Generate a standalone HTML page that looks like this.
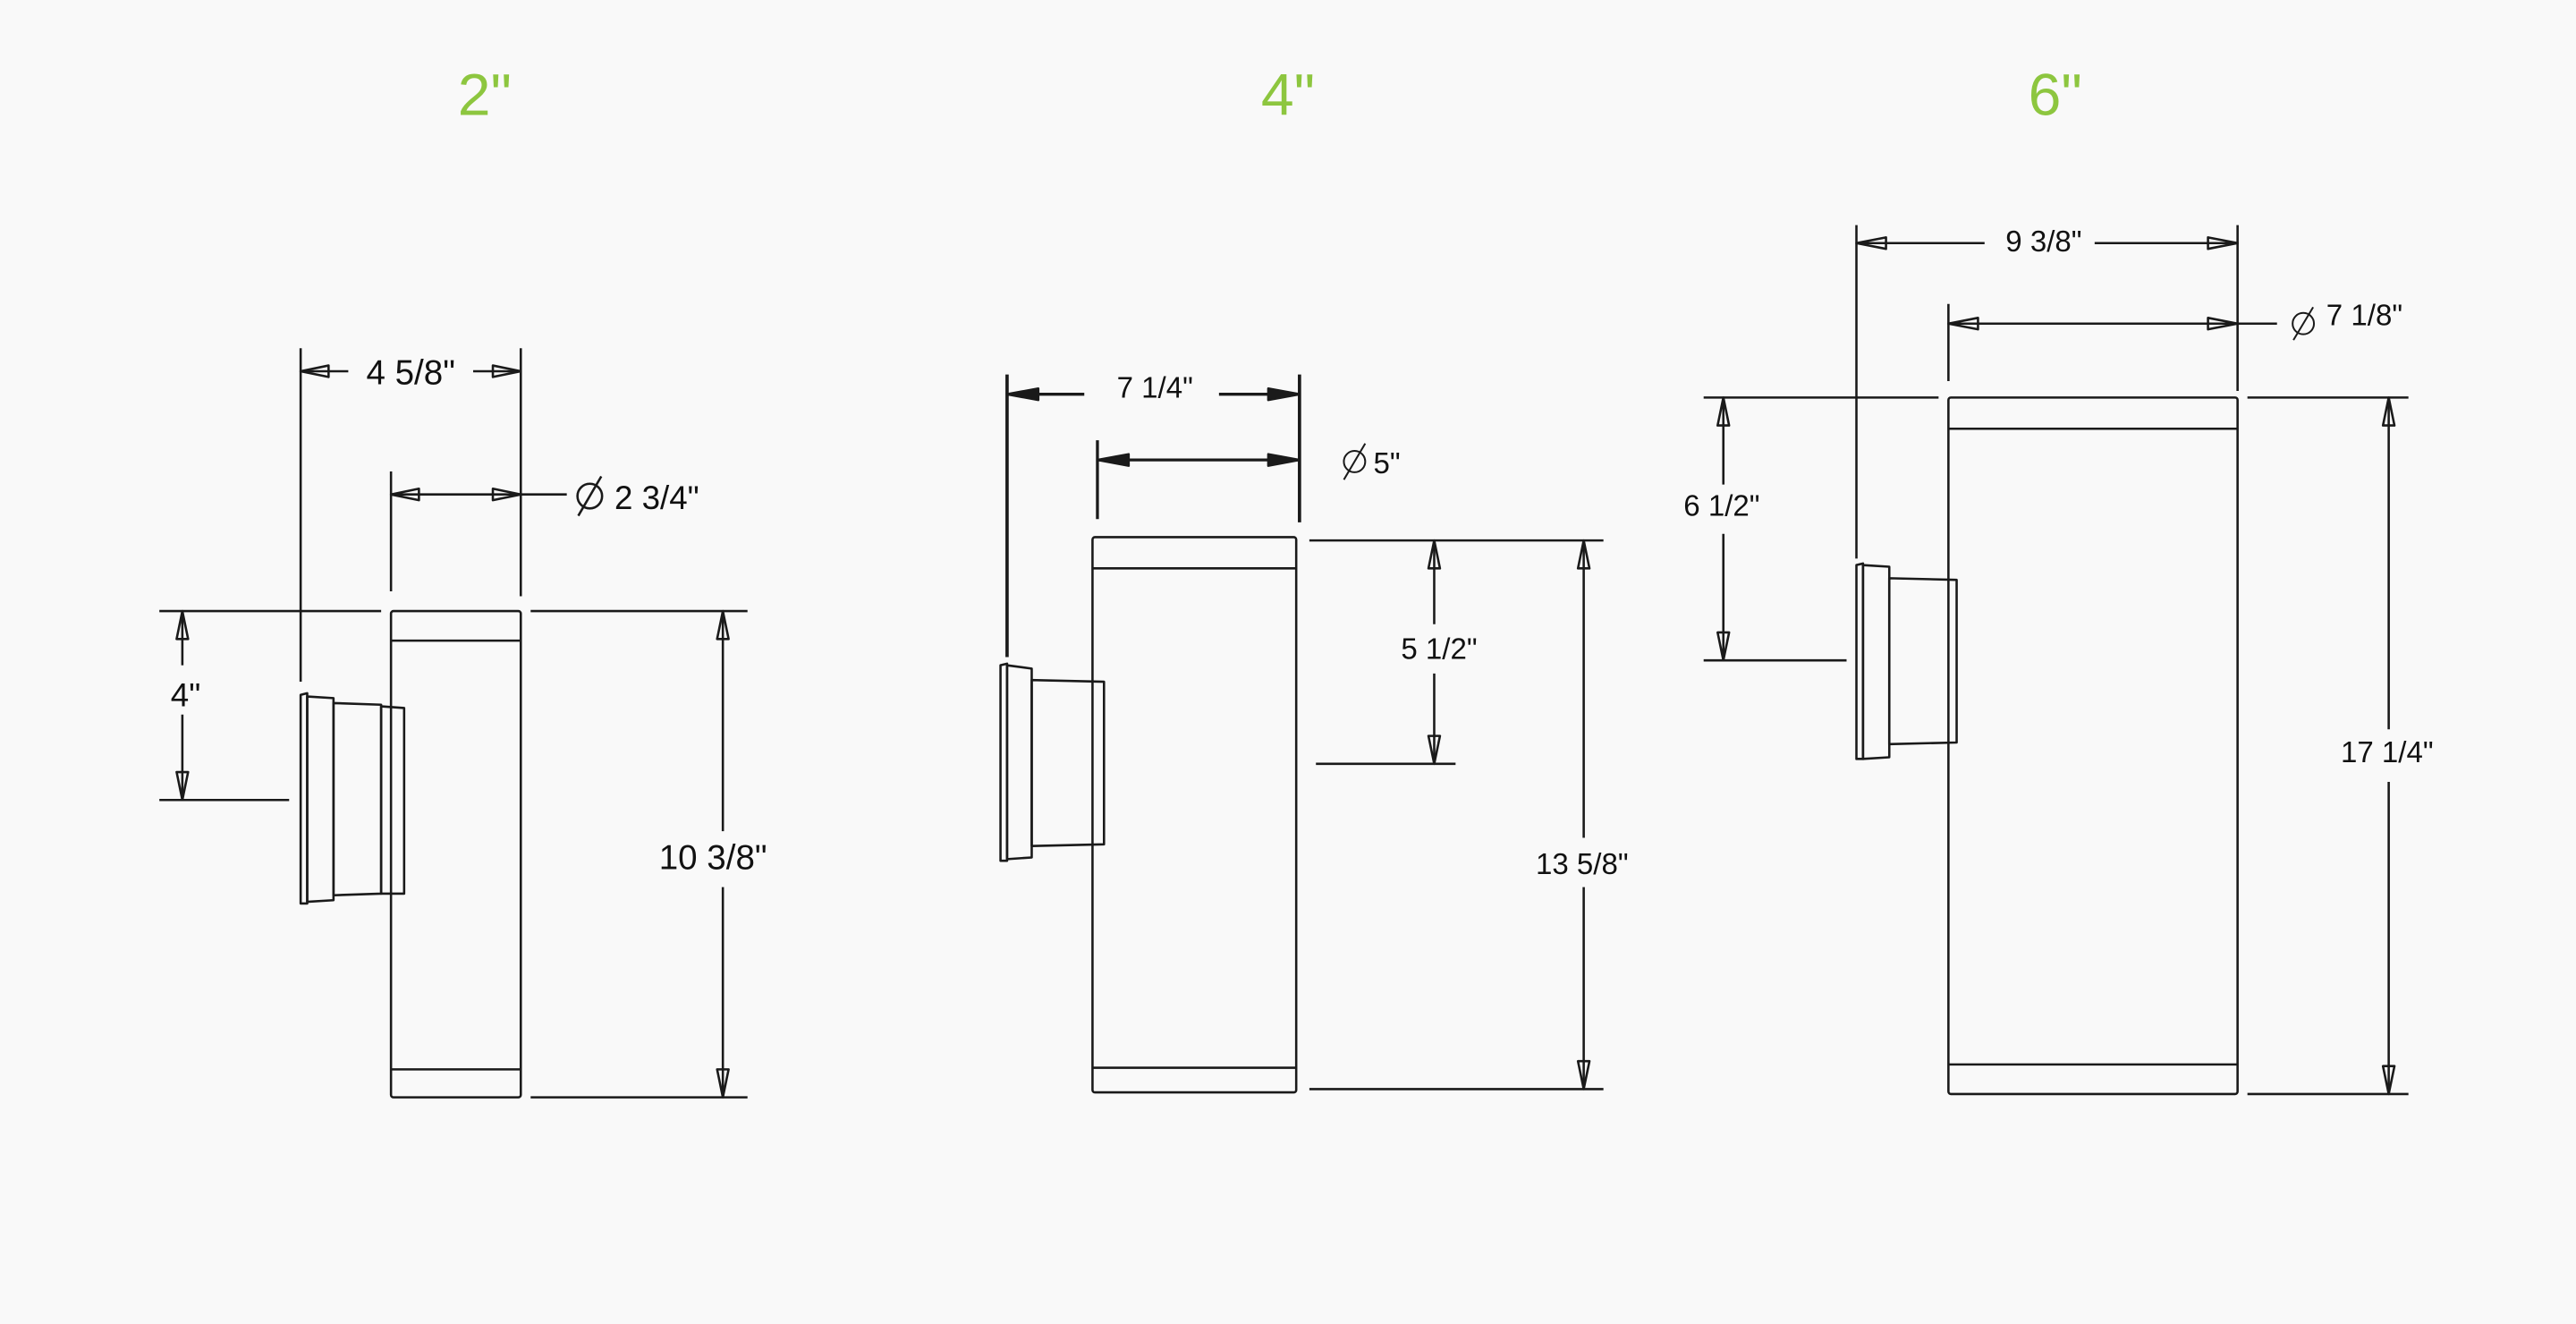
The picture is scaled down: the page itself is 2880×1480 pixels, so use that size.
<!DOCTYPE html>
<html><head><meta charset="utf-8"><style>
html,body{margin:0;padding:0;background:#f9f9f9;}
svg{display:block;}
text{font-family:"Liberation Sans",Arial,sans-serif;fill:#111;}
.t{fill:#8dc63f;font-size:36px;text-anchor:middle;}
.d{font-size:19px;text-anchor:middle;}
</style></head><body>
<svg width="2880" height="1480" viewBox="0 0 1568 806" preserveAspectRatio="none" xmlns="http://www.w3.org/2000/svg">
<rect width="1568" height="806" fill="#f9f9f9"/>
<g fill="none" stroke="#1a1a1a" stroke-width="1.4" stroke-linejoin="round">
<!-- ===== 2" ===== -->
<rect x="238" y="372" width="79" height="296" rx="1.5"/>
<line x1="238" y1="390" x2="317" y2="390"/><line x1="238" y1="651" x2="317" y2="651"/>
<line x1="183" y1="212" x2="183" y2="415"/><line x1="317" y1="212" x2="317" y2="363"/><line x1="238" y1="287" x2="238" y2="360"/>
<line x1="183" y1="226" x2="212" y2="226"/><line x1="288" y1="226" x2="317" y2="226"/>
<polygon points="183,226 200,222.5 200,229.5"/><polygon points="317,226 300,222.5 300,229.5"/>
<line x1="238" y1="301" x2="345" y2="301"/>
<polygon points="238,301 255,297.5 255,304.5"/><polygon points="317,301 300,297.5 300,304.5"/>
<line x1="97" y1="372" x2="232" y2="372"/><line x1="323" y1="372" x2="455" y2="372"/>
<line x1="97" y1="487" x2="176" y2="487"/><line x1="323" y1="668" x2="455" y2="668"/>
<line x1="111" y1="372" x2="111" y2="405"/><line x1="111" y1="435" x2="111" y2="487"/>
<polygon points="111,372 107.5,389 114.5,389"/><polygon points="111,487 107.5,470 114.5,470"/>
<line x1="440" y1="372" x2="440" y2="506"/><line x1="440" y1="540" x2="440" y2="668"/>
<polygon points="440,372 436.5,389 443.5,389"/><polygon points="440,668 436.5,651 443.5,651"/>
<path d="M183,423 L187,422 L187,550 L183,550 Z"/>
<path d="M187,424 L203,425 L203,548 L187,549 Z"/>
<path d="M203,428 L232,429 L232,544 L203,545 Z"/>
<path d="M232,430 L246,431 L246,544 L232,544 Z"/>
<line x1="352" y1="314" x2="366" y2="290"/><circle cx="359" cy="302" r="7.5"/>
<!-- ===== 4" ===== -->
<rect x="665" y="327" width="124" height="338" rx="1.5"/>
<line x1="665" y1="346" x2="789" y2="346"/><line x1="665" y1="650" x2="789" y2="650"/>
<line x1="613" y1="228" x2="613" y2="400" stroke-width="2"/><line x1="791" y1="228" x2="791" y2="318" stroke-width="2"/><line x1="668" y1="268" x2="668" y2="316" stroke-width="1.8"/>
<line x1="613" y1="240" x2="660" y2="240" stroke-width="1.8"/><line x1="742" y1="240" x2="791" y2="240" stroke-width="1.8"/>
<polygon points="613,240 632,236.5 632,243.5" fill="#1a1a1a"/><polygon points="791,240 772,236.5 772,243.5" fill="#1a1a1a"/>
<line x1="668" y1="280" x2="791" y2="280" stroke-width="1.8"/>
<polygon points="668,280 687,276.5 687,283.5" fill="#1a1a1a"/><polygon points="791,280 772,276.5 772,283.5" fill="#1a1a1a"/>
<line x1="797" y1="329" x2="976" y2="329"/><line x1="801" y1="465" x2="886" y2="465"/><line x1="797" y1="663" x2="976" y2="663"/>
<line x1="873" y1="329" x2="873" y2="380"/><line x1="873" y1="410" x2="873" y2="465"/>
<polygon points="873,329 869.5,346 876.5,346"/><polygon points="873,465 869.5,448 876.5,448"/>
<line x1="964" y1="329" x2="964" y2="510"/><line x1="964" y1="540" x2="964" y2="663"/>
<polygon points="964,329 960.5,346 967.5,346"/><polygon points="964,663 960.5,646 967.5,646"/>
<path d="M609,405 L613,404 L613,524 L609,524 Z"/>
<path d="M613,405 L628,407 L628,522 L613,523 Z"/>
<path d="M628,414 L672,415 L672,514 L628,515 Z"/>
<line x1="818" y1="292" x2="831" y2="270" stroke-width="1.1"/><circle cx="824.5" cy="281" r="6.5" stroke-width="1.1"/>
<!-- ===== 6" ===== -->
<rect x="1186" y="242" width="176" height="424" rx="1.5"/>
<line x1="1186" y1="261" x2="1362" y2="261"/><line x1="1186" y1="648" x2="1362" y2="648"/>
<line x1="1130" y1="137" x2="1130" y2="340"/><line x1="1362" y1="137" x2="1362" y2="238"/><line x1="1186" y1="185" x2="1186" y2="232"/>
<line x1="1130" y1="148" x2="1208" y2="148"/><line x1="1275" y1="148" x2="1362" y2="148"/>
<polygon points="1130,148 1148,144.5 1148,151.5"/><polygon points="1362,148 1344,144.5 1344,151.5"/>
<line x1="1186" y1="197" x2="1386" y2="197"/>
<polygon points="1186,197 1204,193.5 1204,200.5"/><polygon points="1362,197 1344,193.5 1344,200.5"/>
<line x1="1037" y1="242" x2="1180" y2="242"/><line x1="1368" y1="242" x2="1466" y2="242"/>
<line x1="1037" y1="402" x2="1124" y2="402"/><line x1="1368" y1="666" x2="1466" y2="666"/>
<line x1="1049" y1="242" x2="1049" y2="295"/><line x1="1049" y1="325" x2="1049" y2="402"/>
<polygon points="1049,242 1045.5,259 1052.5,259"/><polygon points="1049,402 1045.5,385 1052.5,385"/>
<line x1="1454" y1="242" x2="1454" y2="444"/><line x1="1454" y1="476" x2="1454" y2="666"/>
<polygon points="1454,242 1450.5,259 1457.5,259"/><polygon points="1454,666 1450.5,649 1457.5,649"/>
<path d="M1130,344 L1134,343 L1134,462 L1130,462 Z"/>
<path d="M1134,344 L1150,345 L1150,461 L1134,462 Z"/>
<path d="M1150,352 L1191,353 L1191,452 L1150,453 Z"/>
<line x1="1396" y1="207" x2="1408" y2="187" stroke-width="1.1"/><circle cx="1402" cy="197" r="6.5" stroke-width="1.1"/>
</g>
<text class="t" x="295" y="70">2"</text>
<text class="t" x="784" y="70">4"</text>
<text class="t" x="1251" y="70">6"</text>
<text class="d" x="250" y="234" style="font-size:21px">4 5/8"</text>
<text x="374" y="310" style="font-size:20px">2 3/4"</text>
<text class="d" x="113" y="430" style="font-size:20px">4"</text>
<text class="d" x="434" y="529" style="font-size:21px">10 3/8"</text>
<text class="d" x="703" y="242" style="font-size:18px">7 1/4"</text>
<text x="836" y="288" style="font-size:18px">5"</text>
<text class="d" x="876" y="401" style="font-size:18px">5 1/2"</text>
<text class="d" x="963" y="532" style="font-size:18px">13 5/8"</text>
<text class="d" x="1244" y="153" style="font-size:18px">9 3/8"</text>
<text x="1416" y="198" style="font-size:18px">7 1/8"</text>
<text class="d" x="1048" y="314" style="font-size:18px">6 1/2"</text>
<text class="d" x="1453" y="464" style="font-size:18px">17 1/4"</text>
</svg>
</body></html>
